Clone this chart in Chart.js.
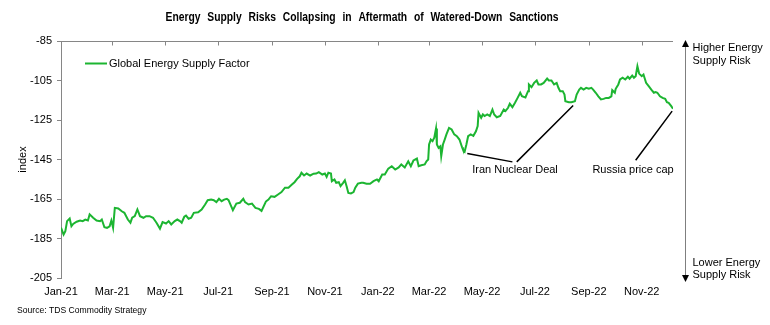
<!DOCTYPE html>
<html>
<head>
<meta charset="utf-8">
<script src="https://cdn.jsdelivr.net/npm/chart.js@4.4.1/dist/chart.umd.min.js"></script>
<style>
    html, body { margin: 0; padding: 0; background: #fff; }
    #wrap { width: 770px; height: 325px; }
</style>
</head>
<body>
<div id="wrap"><canvas id="supplyChart" width="770" height="325"></canvas></div>
<script>
// days since 1 Jan 2021
const days = [0, 3, 5, 7, 10, 12, 14, 18, 22, 25, 28, 31, 33, 37, 41, 45, 47, 50, 53, 56, 58, 60, 62, 66, 70, 73, 77, 80, 82, 85, 88, 91, 95, 98, 102, 106, 110, 114, 117, 121, 124, 127, 131, 134, 137, 139, 142, 144, 147, 150, 153, 158, 162, 166, 169, 173, 176, 179, 182, 185, 188, 191, 193, 196, 198, 202, 206, 210, 212, 216, 220, 224, 228, 231, 236, 239, 242, 246, 250, 254, 258, 262, 266, 269, 272, 275, 277, 280, 283, 287, 291, 294, 297, 301, 304, 306, 308, 311, 312, 315, 317, 320, 322, 325, 327, 329, 331, 334, 337, 339, 342, 346, 348, 352, 356, 360, 364, 366, 370, 373, 377, 381, 385, 389, 392, 396, 400, 403, 406, 410, 412, 415, 419, 421, 423, 424, 426, 428, 430, 432, 433, 435, 437, 438, 440, 442, 444, 447, 450, 453, 456, 459, 462, 463, 465, 467, 469, 472, 475, 478, 480, 481, 484, 486, 488, 491, 494, 497, 499, 502, 506, 510, 512, 515, 517, 520, 523, 526, 529, 531, 535, 538, 539, 542, 545, 548, 550, 553, 556, 560, 562, 565, 568, 571, 573, 575, 578, 580, 581, 585, 588, 592, 594, 597, 599, 602, 605, 608, 611, 613, 616, 619, 622, 625, 628, 631, 634, 635, 638, 639, 642, 644, 647, 650, 653, 655, 658, 660, 662, 664, 666, 669, 671, 674, 677, 680, 683, 685, 687, 690, 693, 696, 698, 700, 703, 705];
const supplyFactor = [-179.5, -183, -181.3, -176.2, -174.9, -178.8, -177.6, -176.5, -175.9, -176.2, -175.4, -175.9, -172.8, -174.5, -175.9, -176.2, -175.4, -179.3, -179.6, -178.8, -175.9, -179.6, -169.5, -169.8, -171.2, -172, -175.4, -177, -174.5, -173.7, -170.3, -173.7, -174.5, -173.7, -173.7, -174.5, -177, -180, -176.7, -177.4, -176.2, -177.9, -176.2, -175.4, -176.2, -177, -174, -173.4, -175, -174.5, -172, -171.7, -170.3, -167.8, -165.6, -165.3, -165.6, -166.6, -164.9, -166.1, -165.3, -164.9, -165.6, -168.6, -170.7, -167.3, -166.9, -164.9, -166.6, -167.8, -167.3, -169.5, -170, -171, -166.3, -165.3, -163.6, -163.9, -162.7, -161.5, -159.3, -159.3, -157.7, -156.5, -154.8, -153.5, -151.7, -153.1, -152.1, -153.1, -152.2, -152.1, -151.4, -152.6, -152.1, -153.8, -151.7, -152.1, -156, -155.1, -156.8, -156.5, -158.5, -156.8, -155.5, -158.5, -161.9, -162.2, -161.5, -159.3, -157.2, -156.8, -156.8, -157.3, -157.3, -156, -155.1, -156, -152.6, -152.6, -149.6, -148.4, -150.1, -149, -147.5, -149, -145.9, -148.4, -145.5, -144.5, -148.4, -147.9, -147.5, -145.9, -145, -137.4, -134.9, -135.7, -134, -129.3, -137.4, -139.1, -138.3, -143.3, -137.4, -134.9, -132.3, -129, -129.8, -132.3, -133.2, -134.9, -138.8, -139.9, -141, -137.4, -133.2, -132.3, -133, -130.7, -128.1, -121.4, -123.9, -122.2, -123, -122.2, -123, -119.7, -122.2, -123.6, -123, -119.7, -120.5, -118.8, -116.8, -118.5, -116.3, -113.8, -111.2, -113, -113.6, -110.4, -107, -108.4, -106.2, -105, -107, -107, -106.2, -104, -105, -105, -107, -106.2, -108.7, -110.4, -110.4, -112.1, -115.5, -116, -116, -115.5, -112.1, -109.6, -108.7, -109.6, -108.7, -109.2, -108.7, -109.6, -111.2, -113, -114.6, -114.3, -113.8, -113.8, -113, -109.9, -111.2, -109.2, -107, -104.5, -103.6, -104.5, -103.1, -104.1, -102.5, -103.6, -102.8, -97.8, -101.5, -102.8, -102, -106.2, -107.9, -109.6, -111.2, -110.9, -111.2, -113, -113.8, -114.3, -116, -116.3, -118, -119.3];

const tickDays = [0, 59, 120, 181, 243, 304, 365, 424, 485, 546, 608, 669];
const tickLabels = ['Jan-21', 'Mar-21', 'May-21', 'Jul-21', 'Sep-21', 'Nov-21', 'Jan-22', 'Mar-22', 'May-22', 'Jul-22', 'Sep-22', 'Nov-22'];
const yTicks = [-205, -185, -165, -145, -125, -105, -85];

// annotation callouts, in data units (day, value)
const iranLines = [[[468, -142], [520, -146.2]], [[525, -146.2], [590, -117.7]]];
const iranLabel = [523, -150];
const russiaLines = [[[662, -145.4], [704, -120.5]]];
const russiaLabel = [659, -150];

const GREEN = '#1cb531';
const AXIS = '#868686';
const FONT = '"Liberation Sans", Arial, sans-serif';

const points = days.map((d, i) => ({ x: d, y: supplyFactor[i] }));

const extras = {
    id: 'extras',
    afterDraw(chart) {
        const { ctx, chartArea, scales } = chart;
        const xs = scales.x, ys = scales.y;
        ctx.save();

        // top axis line with inward ticks
        ctx.strokeStyle = AXIS;
        ctx.lineWidth = 1;
        const top = Math.round(chartArea.top) + 0.5;
        ctx.beginPath();
        ctx.moveTo(chartArea.left, top);
        ctx.lineTo(chartArea.right, top);
        tickDays.forEach(d => {
            const px = Math.round(xs.getPixelForValue(d)) + 0.5;
            ctx.moveTo(px, top);
            ctx.lineTo(px, top + 4);
        });
        ctx.stroke();

        // title: narrow bold face, words spread like the original
        const title = 'Energy Supply Risks Collapsing in Aftermath of Watered-Down Sanctions';
        const sx = 0.86;
        ctx.font = 'bold 12px ' + FONT;
        ctx.fillStyle = '#000';
        ctx.textBaseline = 'middle';
        ctx.textAlign = 'left';
        const words = title.split(' ');
        const widths = words.map(w => ctx.measureText(w).width * sx);
        const total = 393;
        const gap = Math.max(3, (total - widths.reduce((a, b) => a + b, 0)) / (words.length - 1));
        let tx = 362 - total / 2;
        words.forEach((w, i) => {
            ctx.save();
            ctx.translate(tx, 18);
            ctx.scale(sx, 1);
            ctx.fillText(w, 0, 0);
            ctx.restore();
            tx += widths[i] + gap;
        });

        // legend inside plot
        const ds = chart.data.datasets[0];
        ctx.strokeStyle = ds.borderColor;
        ctx.lineWidth = 2;
        ctx.beginPath();
        ctx.moveTo(85, 63.5);
        ctx.lineTo(107, 63.5);
        ctx.stroke();
        ctx.font = '11px ' + FONT;
        ctx.fillStyle = '#000';
        ctx.fillText(ds.label, 109, 64);

        // callouts
        ctx.strokeStyle = '#000';
        ctx.lineWidth = 1.5;
        ctx.beginPath();
        iranLines.concat(russiaLines).forEach(seg => {
            ctx.moveTo(xs.getPixelForValue(seg[0][0]), ys.getPixelForValue(seg[0][1]));
            ctx.lineTo(xs.getPixelForValue(seg[1][0]), ys.getPixelForValue(seg[1][1]));
        });
        ctx.stroke();
        ctx.font = '11px ' + FONT;
        ctx.textAlign = 'center';
        ctx.fillText('Iran Nuclear Deal', xs.getPixelForValue(iranLabel[0]), ys.getPixelForValue(iranLabel[1]) + 1);
        ctx.fillText('Russia price cap', xs.getPixelForValue(russiaLabel[0]), ys.getPixelForValue(russiaLabel[1]) + 1);

        // risk direction arrow on the right
        const ax = chartArea.right + 12.5;
        ctx.strokeStyle = '#7f7f7f';
        ctx.lineWidth = 1;
        ctx.beginPath();
        ctx.moveTo(ax, chartArea.top + 2);
        ctx.lineTo(ax, chartArea.bottom + 1);
        ctx.stroke();
        ctx.fillStyle = '#000';
        ctx.beginPath();
        ctx.moveTo(ax, chartArea.top - 1);
        ctx.lineTo(ax - 3.5, chartArea.top + 6);
        ctx.lineTo(ax + 3.5, chartArea.top + 6);
        ctx.closePath();
        ctx.fill();
        ctx.beginPath();
        ctx.moveTo(ax, chartArea.bottom + 4);
        ctx.lineTo(ax - 3.5, chartArea.bottom - 3);
        ctx.lineTo(ax + 3.5, chartArea.bottom - 3);
        ctx.closePath();
        ctx.fill();

        ctx.font = '11px ' + FONT;
        ctx.textAlign = 'left';
        const rx = ax + 7;
        ctx.fillText('Higher Energy', rx, 48);
        ctx.fillText('Supply Risk', rx, 60.5);
        ctx.fillText('Lower Energy', rx, 263);
        ctx.fillText('Supply Risk', rx, 275);

        // source note
        ctx.font = '8.6px ' + FONT;
        ctx.fillText('Source: TDS Commodity Strategy', 17, 311);
        ctx.restore();
    }
};

new Chart(document.getElementById('supplyChart').getContext('2d'), {
    type: 'line',
    data: {
        datasets: [{
            label: 'Global Energy Supply Factor',
            data: points,
            borderColor: GREEN,
            borderWidth: 2,
            pointRadius: 0,
            tension: 0,
            fill: false
        }]
    },
    options: {
        responsive: false,
        animation: false,
        events: [],
        layout: { padding: { left: 0, right: 97, top: 41, bottom: 0 } },
        plugins: {
            legend: { display: false },
            title: { display: false },
            tooltip: { enabled: false }
        },
        scales: {
            x: {
                type: 'linear',
                min: 0,
                max: 705,
                afterBuildTicks: scale => { scale.ticks = tickDays.map(v => ({ value: v })); },
                afterFit: scale => { scale.height = 47; },
                grid: { display: false, drawTicks: false },
                border: { display: false },
                ticks: {
                    autoSkip: false,
                    maxRotation: 0,
                    padding: 7,
                    color: '#000',
                    font: { family: FONT, size: 11 },
                    callback: v => tickLabels[tickDays.indexOf(v)]
                }
            },
            y: {
                min: -205,
                max: -85,
                afterBuildTicks: scale => { scale.ticks = yTicks.map(v => ({ value: v })); },
                afterFit: scale => { scale.width = 61; },
                grid: { drawOnChartArea: false, drawTicks: true, tickLength: 4, color: AXIS },
                border: { display: true, color: AXIS },
                title: { display: true, text: 'index', color: '#000', font: { family: FONT, size: 11 }, padding: { top: 16, bottom: 0 } },
                ticks: {
                    padding: 5,
                    color: '#000',
                    font: { family: FONT, size: 11 }
                }
            }
        }
    },
    plugins: [extras]
});
</script>
</body>
</html>
